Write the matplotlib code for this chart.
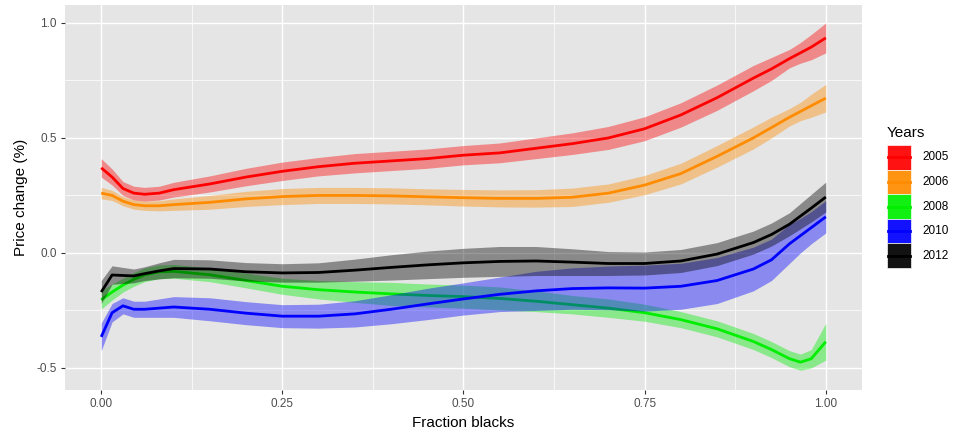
import matplotlib
matplotlib.use("Agg")
import matplotlib.pyplot as plt
from matplotlib.patches import Rectangle
from matplotlib.lines import Line2D
import numpy as np

plt.rcParams['font.family'] = ['Liberation Sans', 'DejaVu Sans']

# fitted price change by share of black residents, one curve per year
frac = [0, .015, .03, .045, .06, .08, .1, .15, .2, .25, .3, .35, .4, .45, .5,
        .55, .6, .65, .7, .75, .8, .85, .9, .925, .95, .965, .98, 1.0]

years = ["2005", "2006", "2008", "2010", "2012"]
colors = ["#FF0000", "#FF8C00", "#00EE00", "#0000FF", "#000000"]

fit_2005 = [0.37, 0.33, 0.28, 0.26, 0.255, 0.26, 0.275, 0.30, 0.33, 0.355, 0.375, 0.39, 0.40, 0.41,
            0.425, 0.435, 0.455, 0.475, 0.50, 0.54, 0.60, 0.675, 0.76, 0.80, 0.845, 0.87, 0.895, 0.935]
fit_2006 = [0.26, 0.25, 0.225, 0.21, 0.205, 0.205, 0.21, 0.22, 0.235, 0.245, 0.25, 0.25, 0.248, 0.244,
            0.24, 0.237, 0.237, 0.242, 0.26, 0.295, 0.345, 0.42, 0.50, 0.545, 0.59, 0.615, 0.64, 0.673]
fit_2008 = [-0.204, -0.17, -0.14, -0.115, -0.095, -0.082, -0.08, -0.095, -0.12, -0.145, -0.16, -0.17,
            -0.178, -0.185, -0.19, -0.198, -0.21, -0.225, -0.24, -0.26, -0.29, -0.33, -0.385, -0.42,
            -0.46, -0.475, -0.46, -0.386]
fit_2010 = [-0.365, -0.26, -0.23, -0.245, -0.245, -0.24, -0.235, -0.245, -0.262, -0.275, -0.275, -0.265,
            -0.245, -0.222, -0.2, -0.18, -0.165, -0.155, -0.152, -0.153, -0.145, -0.12, -0.07, -0.03,
            0.04, 0.075, 0.11, 0.157]
fit_2012 = [-0.17, -0.096, -0.098, -0.1, -0.09, -0.078, -0.068, -0.07, -0.082, -0.087, -0.085, -0.075,
            -0.063, -0.052, -0.043, -0.037, -0.035, -0.04, -0.046, -0.046, -0.035, -0.005, 0.045, 0.08,
            0.125, 0.16, 0.195, 0.243]

# half width of the confidence band
se_2005 = [0.04, 0.035, 0.03, 0.03, 0.03, 0.03, 0.032, 0.035, 0.038, 0.04, 0.04, 0.042, 0.042, 0.042,
           0.042, 0.043, 0.045, 0.047, 0.05, 0.052, 0.053, 0.055, 0.055, 0.05, 0.04, 0.045, 0.055, 0.065]
se_2006 = [0.025, 0.022, 0.02, 0.02, 0.02, 0.022, 0.025, 0.03, 0.033, 0.035, 0.035, 0.035, 0.035, 0.035,
           0.036, 0.037, 0.038, 0.04, 0.04, 0.042, 0.045, 0.047, 0.048, 0.045, 0.038, 0.04, 0.05, 0.06]
se_2008 = [0.04, 0.035, 0.03, 0.03, 0.03, 0.03, 0.03, 0.03, 0.032, 0.035, 0.04, 0.045, 0.05, 0.05,
           0.05, 0.05, 0.045, 0.04, 0.04, 0.037, 0.035, 0.035, 0.035, 0.035, 0.035, 0.035, 0.04, 0.08]
se_2010 = [0.06, 0.04, 0.035, 0.035, 0.035, 0.04, 0.045, 0.05, 0.05, 0.05, 0.052, 0.057, 0.063, 0.068,
           0.07, 0.075, 0.085, 0.09, 0.095, 0.1, 0.1, 0.1, 0.095, 0.09, 0.085, 0.075, 0.07, 0.07]
se_2012 = [0.05, 0.04, 0.035, 0.03, 0.03, 0.035, 0.04, 0.04, 0.04, 0.04, 0.042, 0.048, 0.055, 0.06,
           0.063, 0.065, 0.063, 0.058, 0.052, 0.05, 0.05, 0.05, 0.05, 0.05, 0.05, 0.055, 0.06, 0.065]

fits = [fit_2005, fit_2006, fit_2008, fit_2010, fit_2012]
ses = [se_2005, se_2006, se_2008, se_2010, se_2012]

fig = plt.figure(figsize=(9.56, 4.37), dpi=100)
ax = fig.add_axes([65 / 956, 47 / 437, 797 / 956, 385 / 437])
ax.set_facecolor("#E5E5E5")

# ggplot style grid
for v in [0.125, 0.375, 0.625, 0.875]:
    ax.axvline(v, color="white", lw=0.5, zorder=0)
for v in [0.75, 0.25, -0.25]:
    ax.axhline(v, color="white", lw=0.5, zorder=0)
for v in [0, 0.25, 0.5, 0.75, 1.0]:
    ax.axvline(v, color="white", lw=1.0, zorder=0)
for v in [1.0, 0.5, 0.0, -0.5]:
    ax.axhline(v, color="white", lw=1.0, zorder=0)

x = np.array(frac)
for i, (fit, se, c) in enumerate(zip(fits, ses, colors)):
    y = np.array(fit)
    s = np.array(se)
    ax.fill_between(x, y - s, y + s, color=c, alpha=0.4, lw=0, zorder=2 + 2 * i)
    ax.plot(x, y, color=c, lw=2.0, zorder=3 + 2 * i, solid_capstyle="butt")

ax.set_xlim(-0.05, 1.05)
ax.set_ylim(-0.596, 1.078)
ax.set_xticks([0, 0.25, 0.5, 0.75, 1.0])
ax.set_xticklabels(["0.00", "0.25", "0.50", "0.75", "1.00"])
ax.set_yticks([-0.5, 0.0, 0.5, 1.0])
ax.set_yticklabels(["-0.5", "0.0", "0.5", "1.0"])
ax.tick_params(colors="#333333", labelcolor="#4D4D4D", labelsize=8.5, length=3, width=0.8, pad=3)
for sp in ax.spines.values():
    sp.set_visible(False)

ax.set_xlabel("Fraction blacks", fontsize=11, color="black", labelpad=4)
ax.set_ylabel("Price change (%)", fontsize=11, color="black", labelpad=6)

# legend drawn in pixel coordinates
H = 437
fig.text(887 / 956, (H - 133) / H, "Years", fontsize=11, ha="left", va="center")
key_top = 145
key_h = 24.6
for i, (yr, c) in enumerate(zip(years, colors)):
    top = key_top + i * key_h
    fig.add_artist(Rectangle((887 / 956, (H - top - key_h) / H), 24 / 956, key_h / H,
                             transform=fig.transFigure, facecolor=c, alpha=0.93,
                             edgecolor="white", lw=0.5))
    ym = (H - top - key_h / 2) / H
    fig.add_artist(Line2D([888 / 956, 910 / 956], [ym, ym], transform=fig.transFigure,
                          color=c, lw=2.0))
    fig.text(922 / 956, ym, yr, fontsize=8.5, ha="left", va="center", color="black")

fig.savefig("out.png", dpi=100)
